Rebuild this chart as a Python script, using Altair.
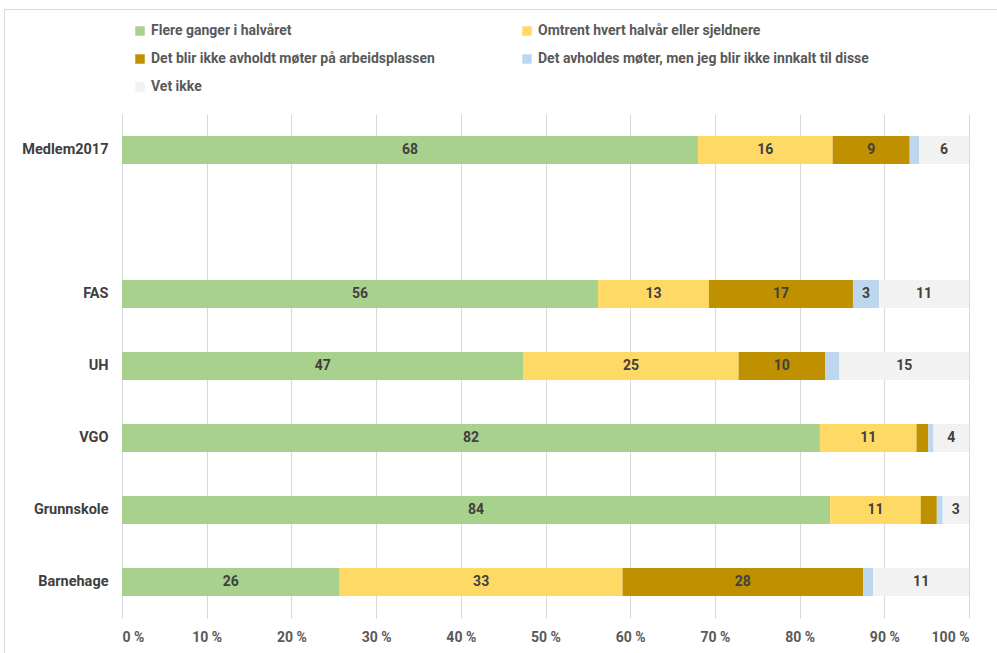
import altair as alt
import pandas as pd

categories = ["Medlem2017", " ", "FAS", "UH", "VGO", "Grunnskole", "Barnehage"]
data_categories = ["Medlem2017", "FAS", "UH", "VGO", "Grunnskole", "Barnehage"]
series = [
    "Flere ganger i halvåret",
    "Omtrent hvert halvår eller sjeldnere",
    "Det blir ikke avholdt møter på arbeidsplassen",
    "Det avholdes møter, men jeg blir ikke innkalt til disse",
    "Vet ikke",
]
flere = [68.0, 56.2, 47.4, 82.4, 83.6, 25.7]
omtrent = [15.9, 13.1, 25.4, 11.4, 10.7, 33.4]
ikke_avholdt = [9.1, 17.0, 10.2, 1.4, 1.9, 28.4]
ikke_innkalt = [1.1, 3.1, 1.7, 0.6, 0.7, 1.2]
vet_ikke = [5.9, 10.6, 15.3, 4.2, 3.1, 11.3]
colors = ["#A9D18E", "#FFD966", "#BF9000", "#BDD7EE", "#F2F2F2"]
x_ticks = [0, 10, 20, 30, 40, 50, 60, 70, 80, 90, 100]

rows = []
for s_i, vals in enumerate([flere, omtrent, ikke_avholdt, ikke_innkalt, vet_ikke]):
    for c, v in zip(data_categories, vals):
        rows.append({"cat": c, "serie": series[s_i], "order": s_i, "value": v})
df = pd.DataFrame(rows)

FONT = "Roboto"

y_enc = alt.Y(
    "cat:N",
    scale=alt.Scale(domain=categories, paddingInner=0.611, paddingOuter=0.3056),
    axis=alt.Axis(title=None, domain=False, ticks=False, labelPadding=14,
                  labelFont=FONT, labelFontSize=14.5, labelFontWeight="bold",
                  labelColor="#404040"),
)

base = alt.Chart(df).transform_stack(
    stack="value", groupby=["cat"], as_=["x0", "x1"],
    sort=[alt.SortField("order", order="ascending")],
).transform_calculate(mid="(datum.x0 + datum.x1) / 2")

bars = base.mark_bar().encode(
    x=alt.X("x0:Q", scale=alt.Scale(domain=[0, 100], nice=False),
            axis=alt.Axis(title=None, values=x_ticks, domain=False, ticks=False,
                          grid=True, gridColor="#d9d9d9", labelPadding=12,
                          labelExpr="datum.value + ' %'",
                          labelFont=FONT, labelFontSize=14, labelFontWeight="bold",
                          labelColor="#595959")),
    x2="x1:Q",
    y=y_enc,
    color=alt.Color("serie:N", scale=alt.Scale(domain=series, range=colors),
                    legend=alt.Legend(title=None, orient="none", legendX=11, legendY=-90,
                                      direction="horizontal",
                                      columns=2, columnPadding=85, rowPadding=14,
                                      symbolType="square", symbolSize=90,
                                      symbolStrokeWidth=0, labelLimit=500,
                                      labelOffset=4,
                                      labelFont=FONT, labelFontSize=14,
                                      labelFontWeight="bold", labelColor="#595959",
                                      padding=0)),
    order=alt.Order("order:Q"),
)

labels = base.transform_filter("datum.value >= 2.5").mark_text(
    font=FONT, fontSize=14, fontWeight="bold", color="#404040"
).encode(
    x=alt.X("mid:Q"),
    y=alt.Y("cat:N", scale=alt.Scale(domain=categories)),
    text=alt.Text("value:Q", format=".0f"),
)

frame = alt.Chart(pd.DataFrame({"a": [0]})).mark_rect(
    fill=None, stroke="#d9d9d9", strokeWidth=1
).encode(
    x=alt.value(-117.5), x2=alt.value(900), y=alt.value(-104.5), y2=alt.value(600)
)

chart = alt.layer(frame, bars, labels).properties(
    width=847, height=504,
    autosize=alt.AutoSizeParams(type="none"),
    padding={"left": 122, "top": 114, "right": 28, "bottom": 35},
    background="white",
).configure_view(stroke=None)

chart.save("out.html", embed_options={"renderer": "svg", "actions": False})
